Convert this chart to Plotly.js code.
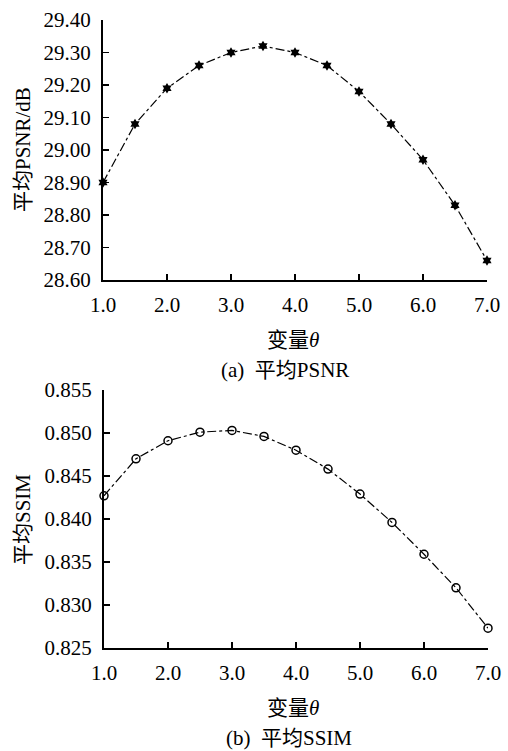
<!DOCTYPE html>
<html><head><meta charset="utf-8">
<script src="https://cdn.plot.ly/plotly-3.0.1.min.js"></script>
<style>html,body{margin:0;padding:0;background:#fff}</style>
</head><body>
<div id="chart" style="width:508px;height:751px"></div>
<script>
var theta = [1.0, 1.5, 2.0, 2.5, 3.0, 3.5, 4.0, 4.5, 5.0, 5.5, 6.0, 6.5, 7.0];
var psnr = [28.90, 29.08, 29.19, 29.26, 29.30, 29.32, 29.30, 29.26, 29.18, 29.08, 28.97, 28.83, 28.66];
var ssim = [0.8427, 0.8470, 0.8491, 0.8501, 0.8503, 0.8496, 0.8480, 0.8458, 0.8429, 0.8396, 0.8359, 0.8320, 0.8273];
var xTickVals = [1, 2, 3, 4, 5, 6, 7];
var xTickText = ['1.0', '2.0', '3.0', '4.0', '5.0', '6.0', '7.0'];
var psnrTicks = [28.60, 28.70, 28.80, 28.90, 29.00, 29.10, 29.20, 29.30, 29.40];
var ssimTicks = [0.825, 0.830, 0.835, 0.840, 0.845, 0.850, 0.855];

var FONT = "'Liberation Serif', 'Times New Roman', 'Noto Sans CJK SC', serif";

var traces = [
  {x: theta, y: psnr, xaxis: 'x', yaxis: 'y', mode: 'lines+markers',
   line: {color: '#000', width: 1.2, dash: 'dashdot'},
   marker: {symbol: 'hexagram', size: 8, color: '#000'}, cliponaxis: false},
  {x: theta, y: ssim, xaxis: 'x2', yaxis: 'y2', mode: 'lines+markers',
   line: {color: '#000', width: 1.2, dash: 'dashdot'},
   marker: {symbol: 'circle-open', size: 8, color: '#000', line: {width: 1.5, color: '#000'}}, cliponaxis: false}
];

function xax(anchor, dom) {
  return {domain: dom, anchor: anchor, range: [1, 7], tickvals: xTickVals, ticktext: xTickText,
    showline: true, linecolor: '#000', linewidth: 2, ticks: 'inside', ticklen: 6, tickcolor: '#000', tickwidth: 1.5,
    ticklabelstandoff: 5,
    showgrid: false, zeroline: false, tickfont: {family: FONT, size: 21, color: '#000'}};
}
function yax(anchor, dom, range, vals, fmt) {
  return {domain: dom, anchor: anchor, range: range, tickvals: vals, tickformat: fmt,
    showline: true, linecolor: '#000', linewidth: 2, ticks: 'inside', ticklen: 6, tickcolor: '#000', tickwidth: 1.5,
    ticklabelstandoff: 6,
    showgrid: false, zeroline: false, tickfont: {family: FONT, size: 21, color: '#000'}};
}

var layout = {
  width: 508, height: 751, showlegend: false,
  margin: {l: 0, r: 0, t: 0, b: 0},
  paper_bgcolor: '#fff', plot_bgcolor: '#fff',
  xaxis: xax('y', [103/508, 487/508]),
  yaxis: yax('x', [1-280/751, 1-20/751], [28.60, 29.40], psnrTicks, '.2f'),
  xaxis2: xax('y2', [104/508, 488/508]),
  yaxis2: yax('x2', [1-648/751, 1-390/751], [0.825, 0.855], ssimTicks, '.3f'),
  annotations: [
    {text: '平均PSNR/dB', xref: 'paper', yref: 'paper', x: 23/508, y: 1-150/751, textangle: -90,
     xanchor: 'center', yanchor: 'middle',
     showarrow: false, font: {family: FONT, size: 21, color: '#000'}},
    {text: '变量<i>θ</i>', xref: 'paper', yref: 'paper', x: 293/508, y: 1-340/751,
     xanchor: 'center', yanchor: 'middle',
     showarrow: false, font: {family: FONT, size: 21, color: '#000'}},
    {text: '(a)  平均PSNR', xref: 'paper', yref: 'paper', x: 285/508, y: 1-370/751,
     xanchor: 'center', yanchor: 'middle',
     showarrow: false, font: {family: FONT, size: 21, color: '#000'}},
    {text: '平均SSIM', xref: 'paper', yref: 'paper', x: 23/508, y: 1-520/751, textangle: -90,
     xanchor: 'center', yanchor: 'middle',
     showarrow: false, font: {family: FONT, size: 21, color: '#000'}},
    {text: '变量<i>θ</i>', xref: 'paper', yref: 'paper', x: 293/508, y: 1-708/751,
     xanchor: 'center', yanchor: 'middle',
     showarrow: false, font: {family: FONT, size: 21, color: '#000'}},
    {text: '(b)  平均SSIM', xref: 'paper', yref: 'paper', x: 289/508, y: 1-738/751,
     xanchor: 'center', yanchor: 'middle',
     showarrow: false, font: {family: FONT, size: 21, color: '#000'}}
  ]
};
Plotly.newPlot('chart', traces, layout, {staticPlot: true, displayModeBar: false});
</script>
</body></html>
